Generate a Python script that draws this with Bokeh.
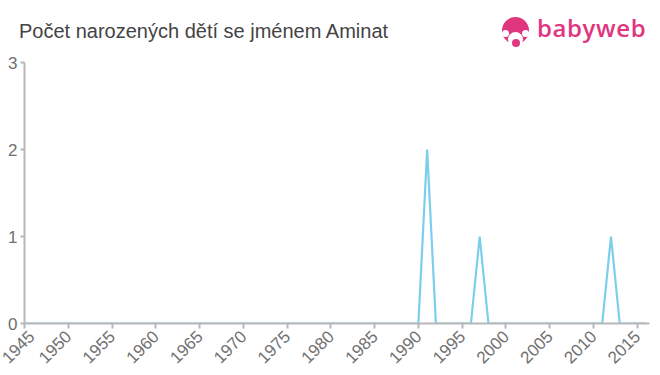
import math
from bokeh.plotting import figure
from bokeh.layouts import column
from bokeh.models import Range1d, FixedTicker, ColumnDataSource, Div
from bokeh.embed import file_html
from bokeh.resources import INLINE

years = list(range(1945, 2017))
counts = [0] * len(years)
peaks = {1991: 2, 1997: 1, 2012: 1}
for y, c in peaks.items():
    counts[years.index(y)] = c

x_ticks = list(range(1945, 2016, 5))
y_ticks = [0, 1, 2, 3]

title_text = "Počet narozených dětí se jménem Aminat"
logo_text = "babyweb"

PINK = "#e0357f"
TOP_H = 50
FL, FR, FB = 24, 11, 52


def dot(cx, cy, d, color):
    return ('<div style="position:absolute;left:%.1fpx;top:%.1fpx;width:%dpx;height:%dpx;'
            'border-radius:50%%;background:%s;"></div>' % (cx - d / 2, cy - d / 2, d, d, color))


html = (
    '<div style="position:relative;width:660px;height:%dpx;overflow:hidden;">' % TOP_H
    + '<span style="position:absolute;left:19px;top:21px;white-space:nowrap;line-height:1;'
      'font-family:\'Liberation Sans\';font-size:20px;color:#444444;">%s</span>' % title_text
    + dot(515, 30, 27, PINK) + dot(515, 39, 15, "white")
    + dot(505, 33, 7, "white") + dot(525, 33, 7, "white") + dot(516, 43, 8, PINK)
    + '<span style="position:absolute;left:537px;top:16px;white-space:nowrap;line-height:1;'
      'font-family:\'Open Sans\';font-weight:600;font-size:24px;letter-spacing:0.6px;'
      'color:%s;">%s</span>' % (PINK, logo_text)
    + '</div>'
)
hdr = Div(text=html, width=660, height=TOP_H, margin=(0, 0, 0, 0))

p = figure(width=660, height=375 - TOP_H, output_backend="svg", toolbar_location=None,
           x_range=Range1d(1945, 2016.4), y_range=Range1d(0, 3),
           min_border_left=FL, min_border_right=FR, min_border_top=62 - TOP_H,
           min_border_bottom=FB)
p.outline_line_color = None
p.xgrid.grid_line_color = None
p.ygrid.grid_line_color = None

src = ColumnDataSource(dict(x=years, y=counts))
p.line("x", "y", source=src, line_color="#7ccfec", line_width=2.2)

axis_col = "#b8b8b8"
lab_col = "#707070"
for ax in (p.xaxis[0], p.yaxis[0]):
    ax.axis_line_color = axis_col
    ax.axis_line_width = 2
    ax.major_tick_line_color = axis_col
    ax.major_tick_line_width = 2
    ax.minor_tick_line_color = None
    ax.major_label_text_color = lab_col
    ax.major_label_text_font = "Liberation Sans"
    ax.major_label_text_font_size = "17px"

p.xaxis.ticker = FixedTicker(ticks=x_ticks)
p.xaxis.major_tick_in = 0
p.xaxis.major_tick_out = 5
p.xaxis.major_label_orientation = math.pi / 4
p.xaxis.major_label_standoff = 5

p.yaxis.ticker = FixedTicker(ticks=y_ticks)
p.yaxis.major_tick_in = 0
p.yaxis.major_tick_out = 4
p.yaxis.major_label_standoff = 3

layout = column(hdr, p, spacing=0)
open("out.html", "w").write(file_html(layout, INLINE))
